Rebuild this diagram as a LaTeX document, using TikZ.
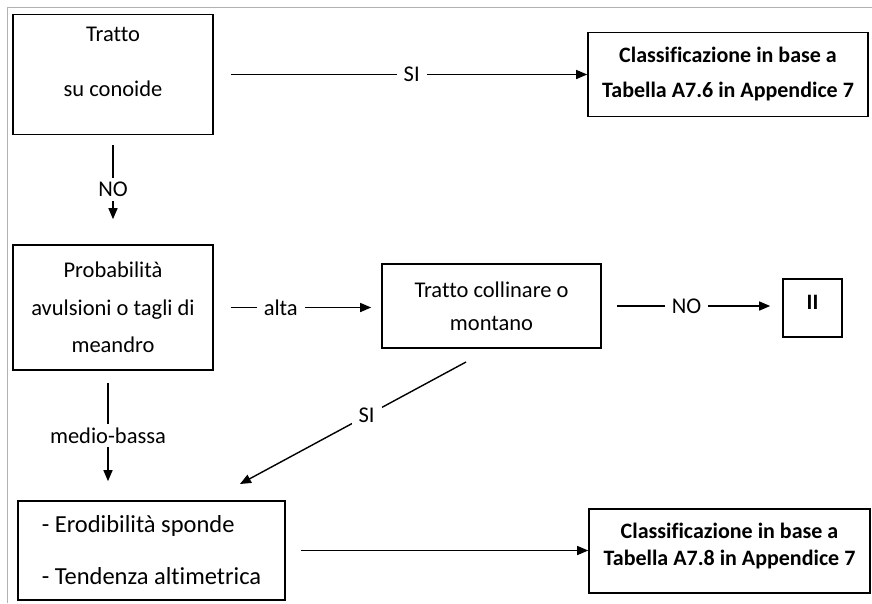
\documentclass[tikz,border=0pt]{standalone}
\usepackage{fontspec}
\setmainfont{Carlito}[Ligatures=NoCommon]
\usetikzlibrary{arrows.meta,positioning}

\begin{document}
\begin{tikzpicture}[
  x=1pt, y=-1pt,
  box/.style={draw, line width=1.6pt, inner sep=0pt, align=center, font=\fontsize{22.5}{27}\selectfont},
  bbox/.style={box, font=\fontsize{22}{26}\selectfont\bfseries},
  arr/.style={-{Triangle[length=11pt,width=9pt]}, line width=1.4pt},
  lbl/.style={fill=white, inner xsep=7pt, inner ysep=4pt, font=\fontsize{22.5}{27}\selectfont}
]
  \useasboundingbox (0,0) rectangle (872,603);
  \draw[gray!60, line width=1pt] (872,7) -- (7,7) -- (7,603);

  \node[box, minimum width=200, minimum height=120] (conoide) at (113,74.5) {Tratto\\[28pt]su conoide\\[-2pt]\mbox{}};
  \node[bbox, minimum width=280, minimum height=84] (tab76) at (728,74.5) {Classificazione in base a\\[9pt]Tabella A7.6 in Appendice 7};
  \node[box, minimum width=200, minimum height=125] (prob) at (113,307.5) {Probabilità\\[10.5pt]avulsioni o tagli di\\[10.5pt]meandro};
  \node[box, minimum width=219, minimum height=84] (collin) at (491.5,306) {Tratto collinare o\\[6pt]montano};
  \node[bbox, minimum width=59, minimum height=58] (classeII) at (812.5,308) {II\\[-14pt]\mbox{}};
  \node[box, minimum width=267, minimum height=99, align=left, font=\fontsize{24.5}{30}\selectfont] (erod) at (151.5,550.5) {- Erodibilità sponde\\[22pt]- Tendenza altimetrica};
  \node[bbox, minimum width=281, minimum height=84] (tab78) at (729.5,551) {Classificazione in base a\\[1pt]Tabella A7.8 in Appendice 7\\[-12pt]\mbox{}};

  \coordinate (sitail) at (466,362);
  \coordinate (sitip) at (240,484);

  \draw[arr, shorten <=17pt] (conoide) -- node[lbl, pos=0.53] {SI} (tab76);
  \draw[arr, shorten <=10pt, shorten >=25pt] (conoide) -- node[lbl, pos=0.5] {NO} (prob);
  \draw[arr, shorten <=17pt, shorten >=10pt] (prob) -- node[lbl, pos=0.4] {alta} (prob -| collin.west);
  \draw[arr, shorten <=15pt, shorten >=12pt] (collin) -- node[lbl, pos=0.47] {NO} (collin -| classeII.west);
  \draw[arr] (sitail) -- node[lbl, pos=0.44] {SI} (sitip);
  \draw[arr, shorten <=12pt, shorten >=19pt] ([xshift=-5pt]prob.south) -- node[lbl, pos=0.5] {medio-bassa} ([xshift=-5pt]prob.south |- erod.north);
  \draw[arr, shorten <=15pt] (erod) -- (erod -| tab78.west);
\end{tikzpicture}
\end{document}
